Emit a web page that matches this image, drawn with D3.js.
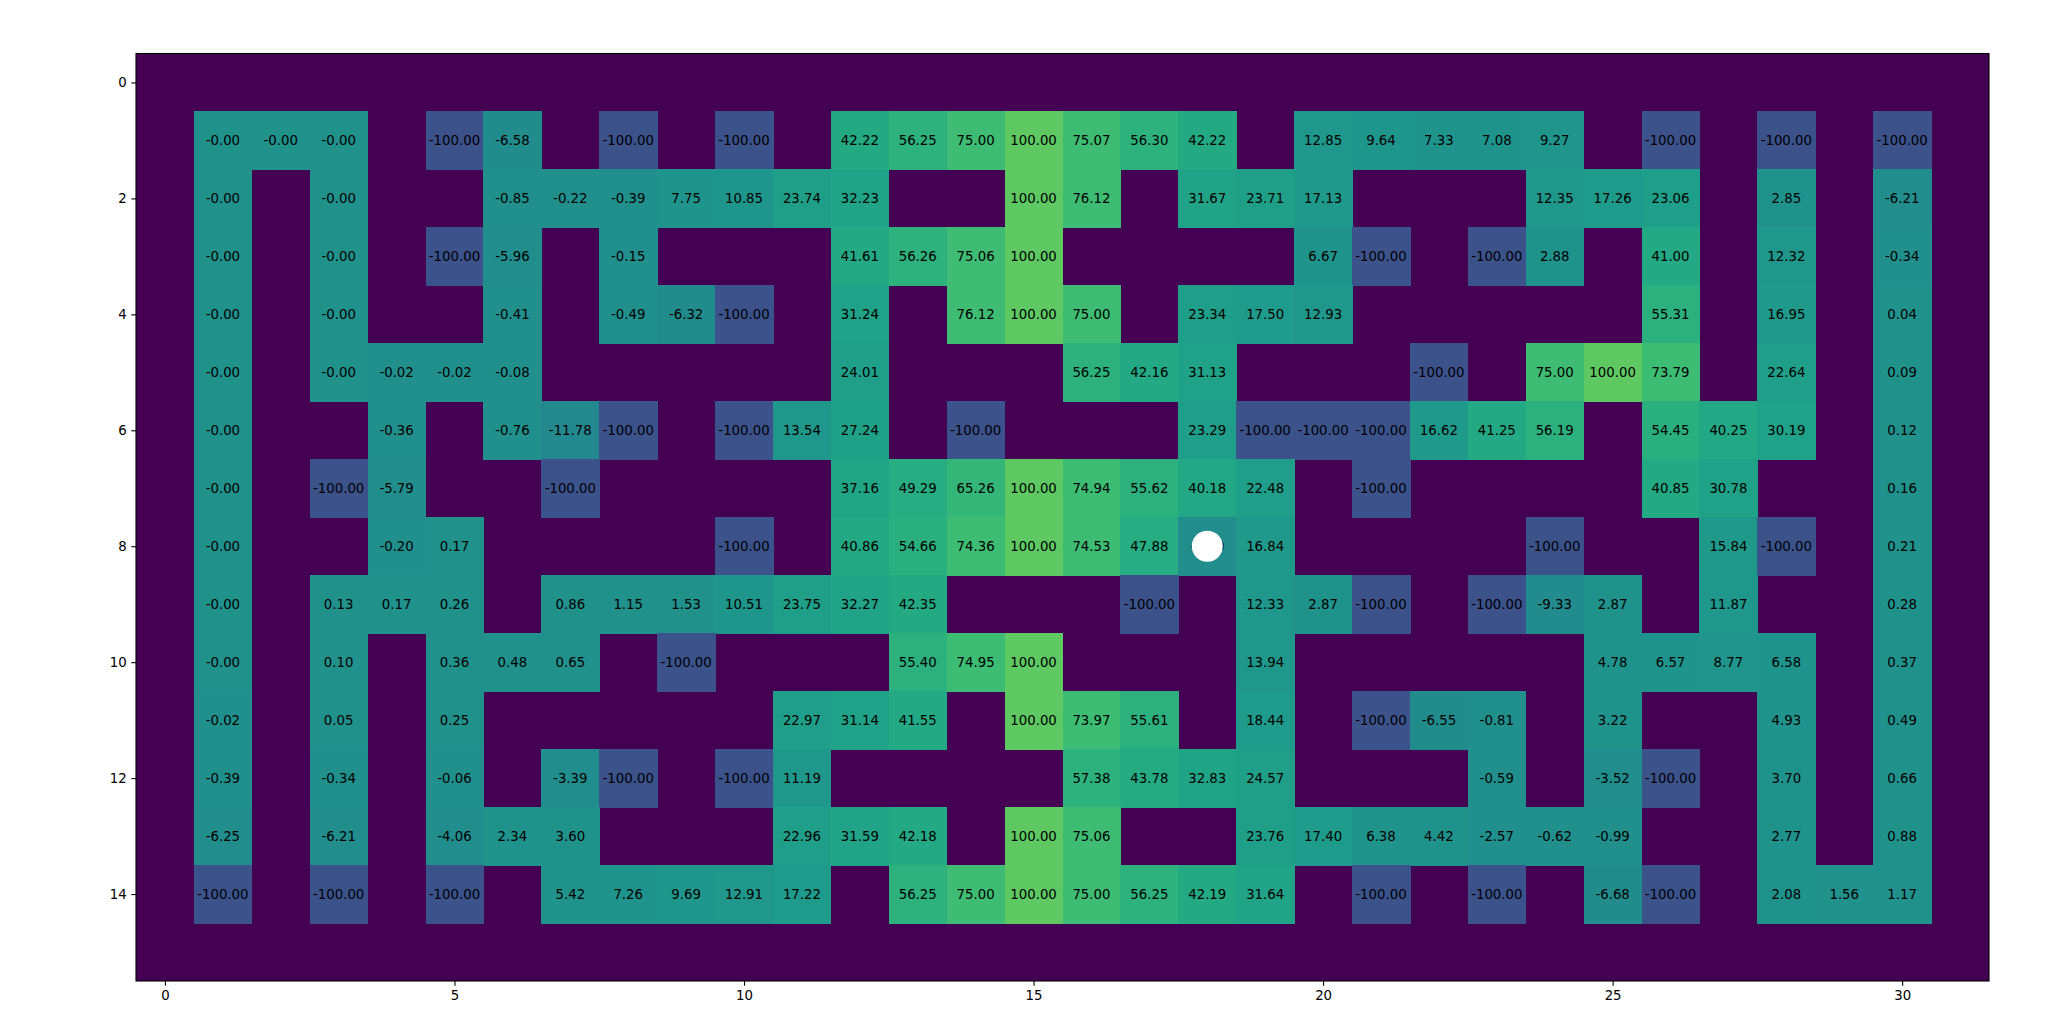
<!DOCTYPE html>
<html>
<head>
<meta charset="utf-8">
<script src="https://cdn.jsdelivr.net/npm/d3@7"></script>
<style>
  html, body { margin: 0; padding: 0; background: #ffffff; }
  svg { display: block; }
  text { font-family: "DejaVu Sans", sans-serif; }
</style>
</head>
<body>
<svg id="chart" width="2048" height="1034"></svg>
<script>
// ---- data (null = wall) ----
const W = null;
const row0  = [W,W,W,W,W,W,W,W,W,W,W,W,W,W,W,W,W,W,W,W,W,W,W,W,W,W,W,W,W,W,W,W];
const row1  = [W,-0.0,-0.0,-0.0,W,-100,-6.58,W,-100,W,-100,W,42.22,56.25,75.00,100.00,75.07,56.30,42.22,W,12.85,9.64,7.33,7.08,9.27,W,-100,W,-100,W,-100,W];
const row2  = [W,-0.0,W,-0.0,W,W,-0.85,-0.22,-0.39,7.75,10.85,23.74,32.23,W,W,100.00,76.12,W,31.67,23.71,17.13,W,W,W,12.35,17.26,23.06,W,2.85,W,-6.21,W];
const row3  = [W,-0.0,W,-0.0,W,-100,-5.96,W,-0.15,W,W,W,41.61,56.26,75.06,100.00,W,W,W,W,6.67,-100,W,-100,2.88,W,41.00,W,12.32,W,-0.34,W];
const row4  = [W,-0.0,W,-0.0,W,W,-0.41,W,-0.49,-6.32,-100,W,31.24,W,76.12,100.00,75.00,W,23.34,17.50,12.93,W,W,W,W,W,55.31,W,16.95,W,0.04,W];
const row5  = [W,-0.0,W,-0.0,-0.02,-0.02,-0.08,W,W,W,W,W,24.01,W,W,W,56.25,42.16,31.13,W,W,W,-100,W,75.00,100.00,73.79,W,22.64,W,0.09,W];
const row6  = [W,-0.0,W,W,-0.36,W,-0.76,-11.78,-100,W,-100,13.54,27.24,W,-100,W,W,W,23.29,-100,-100,-100,16.62,41.25,56.19,W,54.45,40.25,30.19,W,0.12,W];
const row7  = [W,-0.0,W,-100,-5.79,W,W,-100,W,W,W,W,37.16,49.29,65.26,100.00,74.94,55.62,40.18,22.48,W,-100,W,W,W,W,40.85,30.78,W,W,0.16,W];
const row8  = [W,-0.0,W,W,-0.20,0.17,W,W,W,W,-100,W,40.86,54.66,74.36,100.00,74.53,47.88,-5.00,16.84,W,W,W,W,-100,W,W,15.84,-100,W,0.21,W];
const row9  = [W,-0.0,W,0.13,0.17,0.26,W,0.86,1.15,1.53,10.51,23.75,32.27,42.35,W,W,W,-100,W,12.33,2.87,-100,W,-100,-9.33,2.87,W,11.87,W,W,0.28,W];
const row10 = [W,-0.0,W,0.10,W,0.36,0.48,0.65,W,-100,W,W,W,55.40,74.95,100.00,W,W,W,13.94,W,W,W,W,W,4.78,6.57,8.77,6.58,W,0.37,W];
const row11 = [W,-0.02,W,0.05,W,0.25,W,W,W,W,W,22.97,31.14,41.55,W,100.00,73.97,55.61,W,18.44,W,-100,-6.55,-0.81,W,3.22,W,W,4.93,W,0.49,W];
const row12 = [W,-0.39,W,-0.34,W,-0.06,W,-3.39,-100,W,-100,11.19,W,W,W,W,57.38,43.78,32.83,24.57,W,W,W,-0.59,W,-3.52,-100,W,3.70,W,0.66,W];
const row13 = [W,-6.25,W,-6.21,W,-4.06,2.34,3.60,W,W,W,22.96,31.59,42.18,W,100.00,75.06,W,W,23.76,17.40,6.38,4.42,-2.57,-0.62,-0.99,W,W,2.77,W,0.88,W];
const row14 = [W,-100,W,-100,W,-100,W,5.42,7.26,9.69,12.91,17.22,W,56.25,75.00,100.00,75.00,56.25,42.19,31.64,W,-100,W,-100,W,-6.68,-100,W,2.08,1.56,1.17,W];
const row15 = [W,W,W,W,W,W,W,W,W,W,W,W,W,W,W,W,W,W,W,W,W,W,W,W,W,W,W,W,W,W,W,W];
const gridRows = [row0,row1,row2,row3,row4,row5,row6,row7,row8,row9,row10,row11,row12,row13,row14,row15];
const agent = {col: 18, row: 8};
const xTickValues = [0, 5, 10, 15, 20, 25, 30];
const yTickValues = [0, 2, 4, 6, 8, 10, 12, 14];

// ---- layout ----
const nCols = row0.length, nRows = gridRows.length;
const plotL = 136, plotR = 1989, plotT = 53.5, plotB = 981;
const x = d3.scaleLinear().domain([-0.5, nCols - 0.5]).range([plotL, plotR]);
const y = d3.scaleLinear().domain([-0.5, nRows - 0.5]).range([plotT, plotB]);
const color = d3.scaleSequential(d3.interpolateViridis).domain([-200, 200]);
const wallValue = -200;

const fmt = v => ((v < 0 || Object.is(v, -0)) ? "-" : "") + Math.abs(v).toFixed(2);

const cells = [];
gridRows.forEach((r, ri) => r.forEach((v, ci) => cells.push({row: ri, col: ci, v})));

const svg = d3.select("#chart");
const g = svg.append("g");

// wall background
g.append("rect")
  .attr("x", plotL).attr("y", plotT)
  .attr("width", plotR - plotL).attr("height", plotB - plotT)
  .attr("fill", color(wallValue));

g.selectAll("rect.cell").data(cells.filter(d => d.v !== null)).join("rect")
  .attr("class", "cell")
  .attr("shape-rendering", "crispEdges")
  .attr("x", d => x(d.col - 0.5))
  .attr("y", d => y(d.row - 0.5))
  .attr("width", d => x(d.col + 0.5) - x(d.col - 0.5) + 0.6)
  .attr("height", d => y(d.row + 0.5) - y(d.row - 0.5) + 0.6)
  .attr("fill", d => color(d.v));

g.selectAll("text.val").data(cells.filter(d => d.v !== null)).join("text")
  .attr("class", "val")
  .attr("x", d => x(d.col))
  .attr("y", d => y(d.row))
  .attr("dy", "0.35em")
  .attr("text-anchor", "middle")
  .attr("font-size", "13.3px")
  .attr("fill", "#000")
  .text(d => fmt(d.v));

// agent marker
g.append("circle")
  .attr("cx", x(agent.col))
  .attr("cy", y(agent.row))
  .attr("r", 15.5)
  .attr("fill", "#ffffff");

// frame
g.append("rect")
  .attr("x", plotL).attr("y", plotT)
  .attr("width", plotR - plotL).attr("height", plotB - plotT)
  .attr("fill", "none").attr("stroke", "#000").attr("stroke-width", 1.1);

// axes
const xAxis = d3.axisBottom(x).tickValues(xTickValues).tickSize(4.7).tickPadding(4.7).tickFormat(d3.format("d"));
const yAxis = d3.axisLeft(y).tickValues(yTickValues).tickSize(4.7).tickPadding(4.7).tickFormat(d3.format("d"));
const gx = svg.append("g").attr("transform", `translate(0,${plotB})`).call(xAxis);
const gy = svg.append("g").attr("transform", `translate(${plotL},0)`).call(yAxis);
[gx, gy].forEach(a => {
  a.select(".domain").remove();
  a.selectAll("line").attr("stroke", "#000").attr("stroke-width", 1.1);
  a.selectAll("text").attr("font-family", "DejaVu Sans, sans-serif").attr("font-size", "13.3px").attr("fill", "#000");
});
</script>
</body>
</html>
